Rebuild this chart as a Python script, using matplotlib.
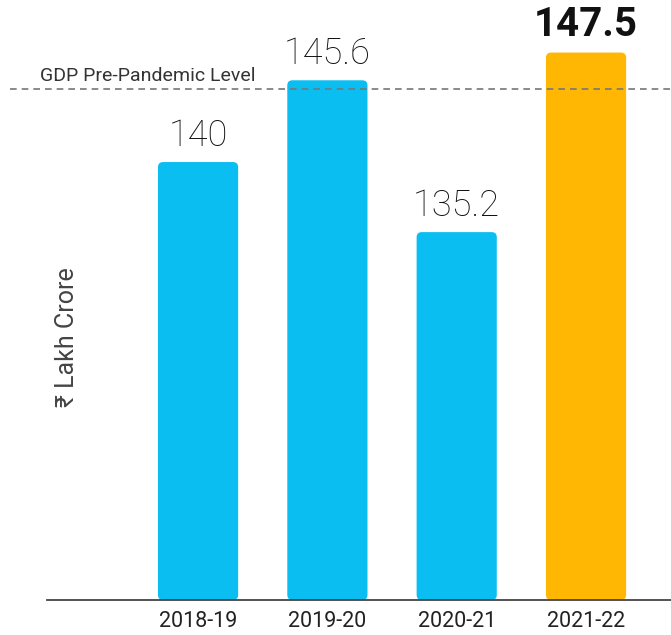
import matplotlib
matplotlib.use("Agg")
import matplotlib.pyplot as plt
from matplotlib.patches import FancyBboxPatch
import matplotlib.transforms as mtransforms

# GDP data (Rs lakh crore)
years = ["2018-19", "2019-20", "2020-21", "2021-22"]
gdp_values = [140, 145.6, 135.2, 147.5]
value_labels = ["140", "145.6", "135.2", "147.5"]
pre_pandemic_level = 145.0

bar_colors = ["#0ABEF2", "#0ABEF2", "#0ABEF2", "#FFB703"]

plt.rcParams['font.family'] = ['Roboto', 'DejaVu Sans']

fig = plt.figure(figsize=(6.71, 6.35), dpi=100)
ax = fig.add_axes([47 / 671, 1 - 600 / 635, 1 - 47 / 671, 600 / 635])

ymin, ymax = 110, 151.1
ax.set_ylim(ymin, ymax)
ax.set_xlim(-1.168, 3.657)

bar_width = 0.62
x_scale = 129.3   # px per x unit
y_scale = 14.59   # px per y unit
for i, (val, col) in enumerate(zip(gdp_values, bar_colors)):
    patch = FancyBboxPatch((i - bar_width / 2, ymin), bar_width, val - ymin,
                           boxstyle="round,pad=0,rounding_size=0.04",
                           mutation_aspect=x_scale / y_scale,
                           facecolor=col, edgecolor="none", zorder=2)
    ax.add_patch(patch)
    bold = (i == len(gdp_values) - 1)
    ax.annotate(value_labels[i], (i, val), xytext=(0, 6), textcoords="offset points",
                ha="center", va="bottom",
                fontsize=29 if bold else 26,
                fontweight="bold" if bold else "light",
                color="#111111", zorder=4)

# pre-pandemic dashed line across the figure
trans = mtransforms.blended_transform_factory(ax.transAxes, ax.transData)
ax.plot([-37 / 624, 1.0], [pre_pandemic_level, pre_pandemic_level],
        transform=trans, color="#777777", linestyle=(0, (4, 3)), linewidth=1.2,
        clip_on=False, zorder=3)
ax.text(-7 / 624, pre_pandemic_level + 0.3, "GDP Pre-Pandemic Level", transform=trans,
        ha="left", va="bottom", fontsize=14, color="#333333")

# axis styling
for side in ["top", "right", "left"]:
    ax.spines[side].set_visible(False)
ax.spines["bottom"].set_color("#444444")
ax.spines["bottom"].set_linewidth(1.3)
ax.set_yticks([])
ax.set_xticks(range(len(years)))
ax.set_xticklabels(years, fontsize=15.5, color="#222222")
ax.tick_params(axis="x", length=0, pad=8)

fig.text(67 / 671, 1 - 337 / 635, "\u20b9 Lakh Crore", rotation=90,
         ha="center", va="center", fontsize=18, color="#444444")

fig.savefig("out.png", dpi=100, facecolor="white")
